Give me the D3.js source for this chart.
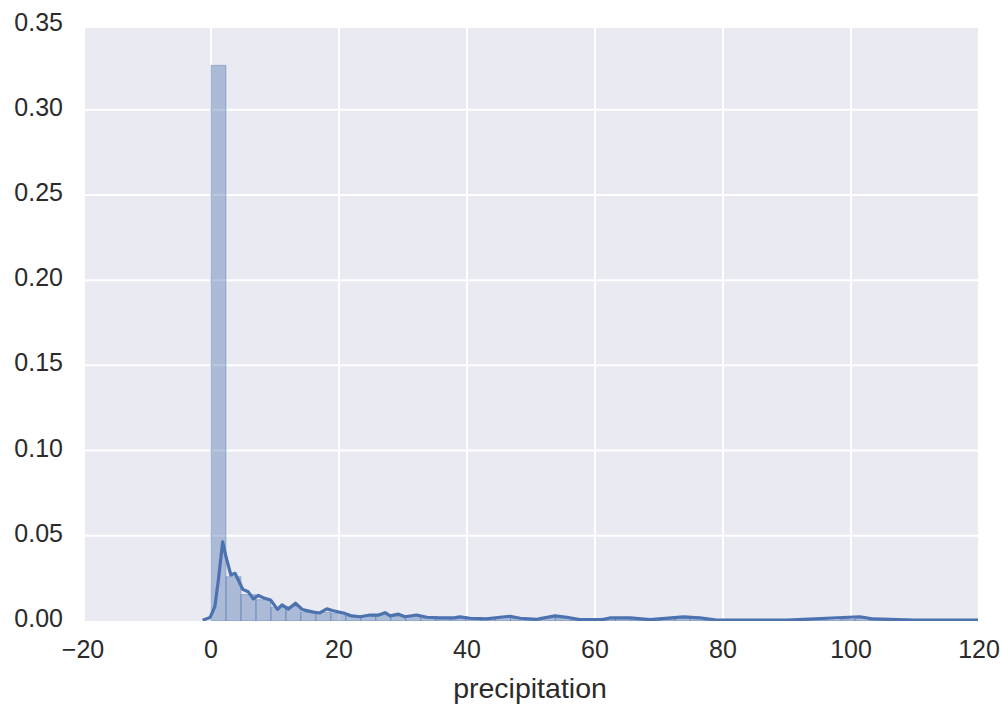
<!DOCTYPE html>
<html>
<head>
<meta charset="utf-8">
<script src="https://cdn.jsdelivr.net/npm/d3@7"></script>
<style>
  body { margin: 0; background: #ffffff; }
  svg { display: block; font-family: "Liberation Sans", Arial, sans-serif; }
</style>
</head>
<body>
<svg id="chart" width="1001" height="705"></svg>
<script>
"use strict";

// Ticks
var xTicks = [-20, 0, 20, 40, 60, 80, 100, 120];
var yTicks = [0.00, 0.05, 0.10, 0.15, 0.20, 0.25, 0.30, 0.35];
var xLabel = "precipitation";

// Histogram (bin width ~2.34, starting at 0), density
var binWidth = 2.34;
var histHeights = [
  0.326, 0.026, 0.0155, 0.0125, 0.008, 0.0085, 0.005, 0.005, 0.0045, 0.0028,
  0.0028, 0.0038, 0.003, 0.0026, 0.0018, 0.0016, 0.0018, 0.0011, 0.0011, 0.0022,
  0.0018, 0.0007, 0.0022, 0.0018, 0.0005, 0.0005, 0.0016, 0.0016, 0.0005, 0.0005,
  0.0009, 0.002, 0.0016, 0.0005, 0.0003, 0.0003, 0.0003, 0.0003, 0.0003, 0.0003,
  0.0003, 0.0003, 0.0009, 0.002, 0.0007, 0.0003, 0.0003, 0.0003, 0.0003, 0.0003
];

// KDE curve
var kdeX = [-1.3, -0.15, 0.6, 1.15, 1.83, 2.34, 3.1, 3.75, 4.4, 4.95, 5.8, 6.6, 7.4, 8.4, 9.3,
  10.4, 11.1, 12.1, 13.2, 14.3, 16, 17, 18.1, 19.1, 20.7, 22, 23.3, 24.8, 26.2, 27.2, 28,
  29.3, 30.3, 32.1, 33.7, 35.8, 38, 38.9, 40.5, 43, 45.2, 46.7, 48.3, 50.9, 53.75, 55.6,
  57.6, 61.2, 62.3, 65.5, 68.6, 73.8, 76.4, 79, 90, 101.4, 103.5, 110, 120];
var kdeY = [0.0005, 0.002, 0.0084, 0.024, 0.0465, 0.0377, 0.027, 0.028, 0.023, 0.0186, 0.0172,
  0.013, 0.015, 0.0133, 0.0123, 0.0068, 0.0095, 0.0070, 0.0104, 0.0067, 0.0052, 0.0047,
  0.0071, 0.006, 0.0047, 0.003, 0.0025, 0.0035, 0.0035, 0.0049, 0.003, 0.004, 0.0025,
  0.0035, 0.0022, 0.0018, 0.0018, 0.0024, 0.0016, 0.0012, 0.0022, 0.0028, 0.0016, 0.001,
  0.003, 0.0022, 0.0008, 0.0008, 0.0018, 0.0018, 0.0008, 0.0024, 0.0018, 0.0006, 0.0005,
  0.0025, 0.0012, 0.0005, 0.0005];

var blue = "#4c72b0";
var textColor = "#2b2b2b";

var svg = d3.select("#chart");

var x = d3.scaleLinear().domain([-20, 120]).range([83, 979]);
var y = d3.scaleLinear().domain([0, 0.35]).range([621, 24.5]);

// plot background
var plot = { left: 85, right: 978, top: 28, bottom: 621 };

svg.append("defs").append("clipPath")
  .attr("id", "clip")
  .append("rect")
  .attr("x", plot.left)
  .attr("y", plot.top)
  .attr("width", plot.right - plot.left)
  .attr("height", plot.bottom - plot.top);

svg.append("rect")
  .attr("x", plot.left)
  .attr("y", plot.top)
  .attr("width", plot.right - plot.left)
  .attr("height", plot.bottom - plot.top)
  .attr("fill", "#eaeaf2");

// grid lines
var grid = svg.append("g").attr("class", "grid");

grid.selectAll("line.vx")
  .data(xTicks.filter(function (d) { return x(d) > plot.left && x(d) < plot.right; }))
  .enter()
  .append("line")
  .attr("class", "vx")
  .attr("x1", function (d) { return x(d); })
  .attr("x2", function (d) { return x(d); })
  .attr("y1", plot.top)
  .attr("y2", plot.bottom)
  .attr("stroke", "#ffffff")
  .attr("stroke-width", 2);

grid.selectAll("line.hy")
  .data(yTicks.filter(function (d) { return y(d) > plot.top && y(d) < plot.bottom; }))
  .enter()
  .append("line")
  .attr("class", "hy")
  .attr("x1", plot.left)
  .attr("x2", plot.right)
  .attr("y1", function (d) { return y(d); })
  .attr("y2", function (d) { return y(d); })
  .attr("stroke", "#ffffff")
  .attr("stroke-width", 2);

var marks = svg.append("g").attr("clip-path", "url(#clip)");

// histogram bars
marks.selectAll("rect.bar")
  .data(histHeights)
  .enter()
  .append("rect")
  .attr("class", "bar")
  .attr("x", function (d, i) { return x(i * binWidth); })
  .attr("width", function (d, i) { return x((i + 1) * binWidth) - x(i * binWidth); })
  .attr("y", function (d) { return y(d); })
  .attr("height", function (d) { return y(0) - y(d); })
  .attr("fill", blue)
  .attr("fill-opacity", 0.4)
  .attr("stroke", blue)
  .attr("stroke-opacity", 0.4)
  .attr("stroke-width", 1);

// kde line
var kde = kdeX.map(function (d, i) { return [d, kdeY[i]]; });
var line = d3.line()
  .x(function (d) { return x(d[0]); })
  .y(function (d) { return y(d[1]); });

marks.append("path")
  .datum(kde)
  .attr("d", line)
  .attr("fill", "none")
  .attr("stroke", blue)
  .attr("stroke-width", 3.2)
  .attr("stroke-linejoin", "round");

// tick labels
svg.append("g")
  .selectAll("text")
  .data(yTicks)
  .enter()
  .append("text")
  .attr("x", 63)
  .attr("y", function (d) { return y(d) - 3; })
  .attr("text-anchor", "end")
  .attr("dominant-baseline", "central")
  .attr("fill", textColor)
  .style("font-size", "25px")
  .text(function (d) { return d.toFixed(2); });

svg.append("g")
  .selectAll("text")
  .data(xTicks)
  .enter()
  .append("text")
  .attr("x", function (d) { return x(d); })
  .attr("y", 649)
  .attr("text-anchor", "middle")
  .attr("dominant-baseline", "central")
  .attr("fill", textColor)
  .style("font-size", "25px")
  .text(function (d) { return d < 0 ? "\u2212" + Math.abs(d) : d; });

// axis label
svg.append("text")
  .attr("x", 530)
  .attr("y", 688)
  .attr("text-anchor", "middle")
  .attr("dominant-baseline", "central")
  .attr("fill", textColor)
  .style("font-size", "28.5px")
  .text(xLabel);
</script>
</body>
</html>
